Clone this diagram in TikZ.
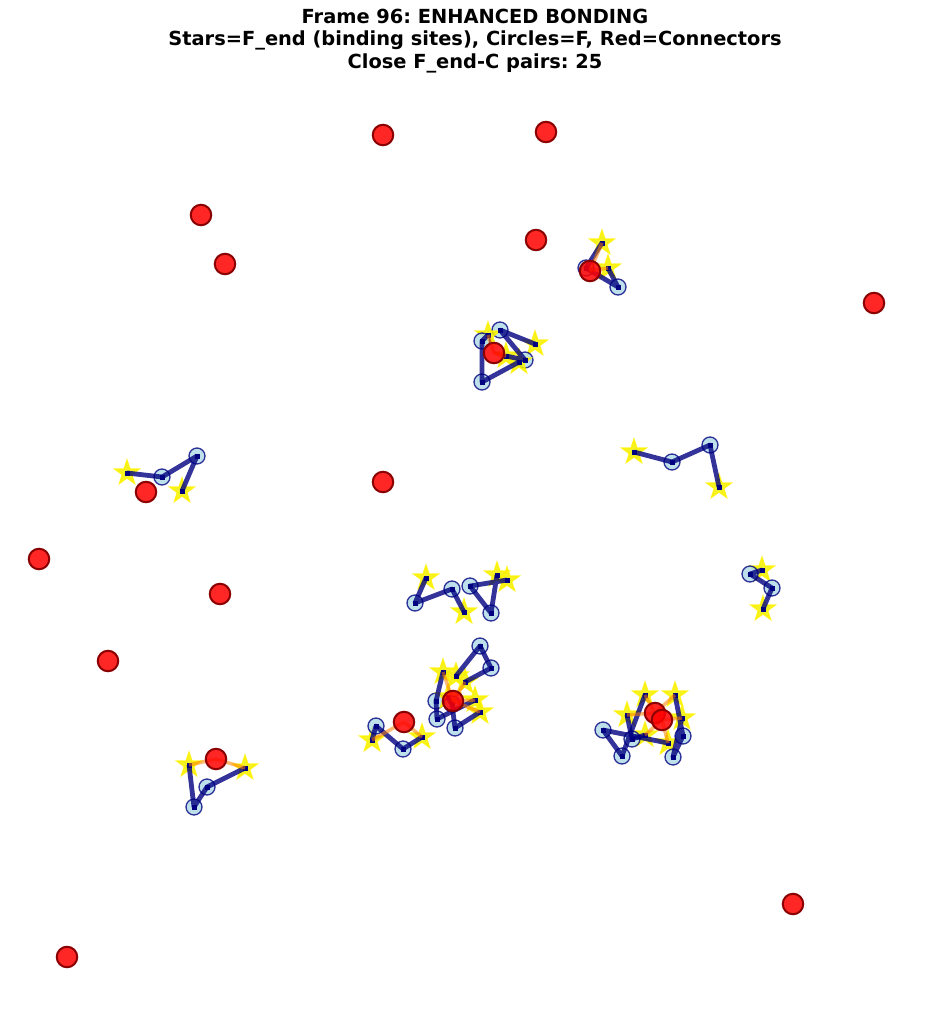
\documentclass[tikz,border=0pt]{standalone}
\usepackage{fontspec}
\newfontfamily\titlefont{DejaVu Sans}
\usetikzlibrary{shapes.geometric}
\pgfdeclarelayer{bg}
\pgfsetlayers{bg,main}
\definecolor{navyc}{RGB}{0,0,128}
\definecolor{lightb}{RGB}{173,216,230}
\definecolor{darkr}{RGB}{139,0,0}
\definecolor{starfill}{RGB}{240,240,0}
\tikzset{
  fend/.style={star, star points=5, star point ratio=2.6, minimum size=25pt, inner sep=0pt,
    fill=starfill, draw=yellow, line width=1.5pt, opacity=0.85},
  fsite/.style={circle, minimum size=16pt, inner sep=0pt, fill=lightb, draw=navyc,
    line width=1.3pt, opacity=0.8},
  bondline/.style={draw=navyc, opacity=0.8, line width=4.8pt, line join=round},
  sq/.style={rectangle, minimum size=5pt, inner sep=0pt, fill=navyc},
  conn/.style={circle, minimum size=20.5pt, inner sep=0pt, fill=red, fill opacity=0.85,
    draw=darkr, line width=2pt},
  closeb/.style={draw=orange, opacity=0.55, line width=3.5pt},
  titlest/.style={align=center, font=\titlefont\bfseries\frenchspacing\fontsize{19.4}{22.5}\selectfont}
}
\newcommand\mol[5]{%
  \begin{pgfonlayer}{bg}
    \node[fend] (#1a) at (#2) {};
    \node[fend] (#1d) at (#5) {};
    \node[fsite] (#1b) at (#3) {};
    \node[fsite] (#1c) at (#4) {};
  \end{pgfonlayer}
  \draw[bondline] (#1a.center) -- (#1b.center) -- (#1c.center) -- (#1d.center);
  \foreach \p in {a,b,c,d} \node[sq] (#1\p q) at (#1\p.center) {};
}
\begin{document}
\begin{tikzpicture}[x=1pt,y=-1pt]
\useasboundingbox (0,0) rectangle (950,1012);
\node[titlest] (title) at (475,41) {Frame 96: ENHANCED BONDING\\Stars=F\_end (binding sites), Circles=F, Red=Connectors\\Close F\_end-C pairs: 25};

% molecules: star, circle, circle, star
\mol{ma}{602,243}{586,268}{618,287}{608,268}
\mol{mb}{535,344}{500,330}{525,360}{506,356}
\mol{mc}{488,335}{482,341}{482,382}{519,362}
\mol{md}{127,473}{162,477}{197,456}{182,491}
\mol{me}{634,452}{672,462}{710,445}{719,487}
\mol{mf}{426,578}{415,603}{452,589}{464,612}
\mol{mg}{507,580}{470,586}{491,613}{497,575}
\mol{mh}{762,570}{750,574}{772,588}{763,609}
\mol{mi}{456,676}{480,646}{491,668}{465,682}
\mol{mj}{443,672}{436,701}{437,719}{475,700}
\mol{mk}{480,712}{455,728}{452,704}{448,697}
\mol{ml}{372,740}{376,726}{403,749}{422,737}
\mol{mm}{189,765}{194,807}{207,787}{245,768}
\mol{mn}{645,695}{622,756}{603,730}{668,743}
\mol{mo}{675,695}{683,736}{673,757}{682,718}
% partial molecule (one site hidden)
\begin{pgfonlayer}{bg}
  \node[fend] (mpa) at (627,715) {};
  \node[fend] (mpd) at (645,735) {};
  \node[fsite] (mpb) at (632,739) {};
\end{pgfonlayer}
\draw[bondline] (mpa.center) -- (mpb.center) -- (mpd.center);
\foreach \p in {a,b,d} \node[sq] (mp\p q) at (mp\p.center) {};

% connector positions
\coordinate (r1) at (383,135);
\coordinate (r2) at (546,132);
\coordinate (r3) at (201,215);
\coordinate (r4) at (225,264);
\coordinate (r5) at (536,240);
\coordinate (r6) at (874,303);
\coordinate (r7) at (590,271);
\coordinate (r8) at (494,353);
\coordinate (r9) at (383,482);
\coordinate (r10) at (146,492);
\coordinate (r11) at (39,559);
\coordinate (r12) at (220,594);
\coordinate (r13) at (108,661);
\coordinate (r14) at (453,701);
\coordinate (r15) at (404,722);
\coordinate (r16) at (216,759);
\coordinate (r17) at (655,713);
\coordinate (r18) at (662,720);
\coordinate (r19) at (793,904);
\coordinate (r20) at (67,957);

% close F_end - C pairs
\draw[closeb] (r7) -- (maa.center);
\draw[closeb] (r7) -- (mad.center);
\draw[closeb] (r8) -- (mca.center);
\draw[closeb] (r8) -- (mbd.center);
\draw[closeb] (r14) -- (mja.center);
\draw[closeb] (r14) -- (mid.center);
\draw[closeb] (r14) -- (mjd.center);
\draw[closeb] (r14) -- (mka.center);
\draw[closeb] (r15) -- (mld.center);
\draw[closeb] (r15) -- (mla.center);
\draw[closeb] (r16) -- (mma.center);
\draw[closeb] (r16) -- (mmd.center);
\draw[closeb] (r17) -- (mna.center);
\draw[closeb] (r17) -- (mpa.center);
\draw[closeb] (r17) -- (moa.center);
\draw[closeb] (r18) -- (mod.center);
\draw[closeb] (r18) -- (mpd.center);
\draw[closeb] (r18) -- (mnd.center);

\foreach \i in {1,...,20} \node[conn] (c\i) at (r\i) {};
\end{tikzpicture}
\end{document}
